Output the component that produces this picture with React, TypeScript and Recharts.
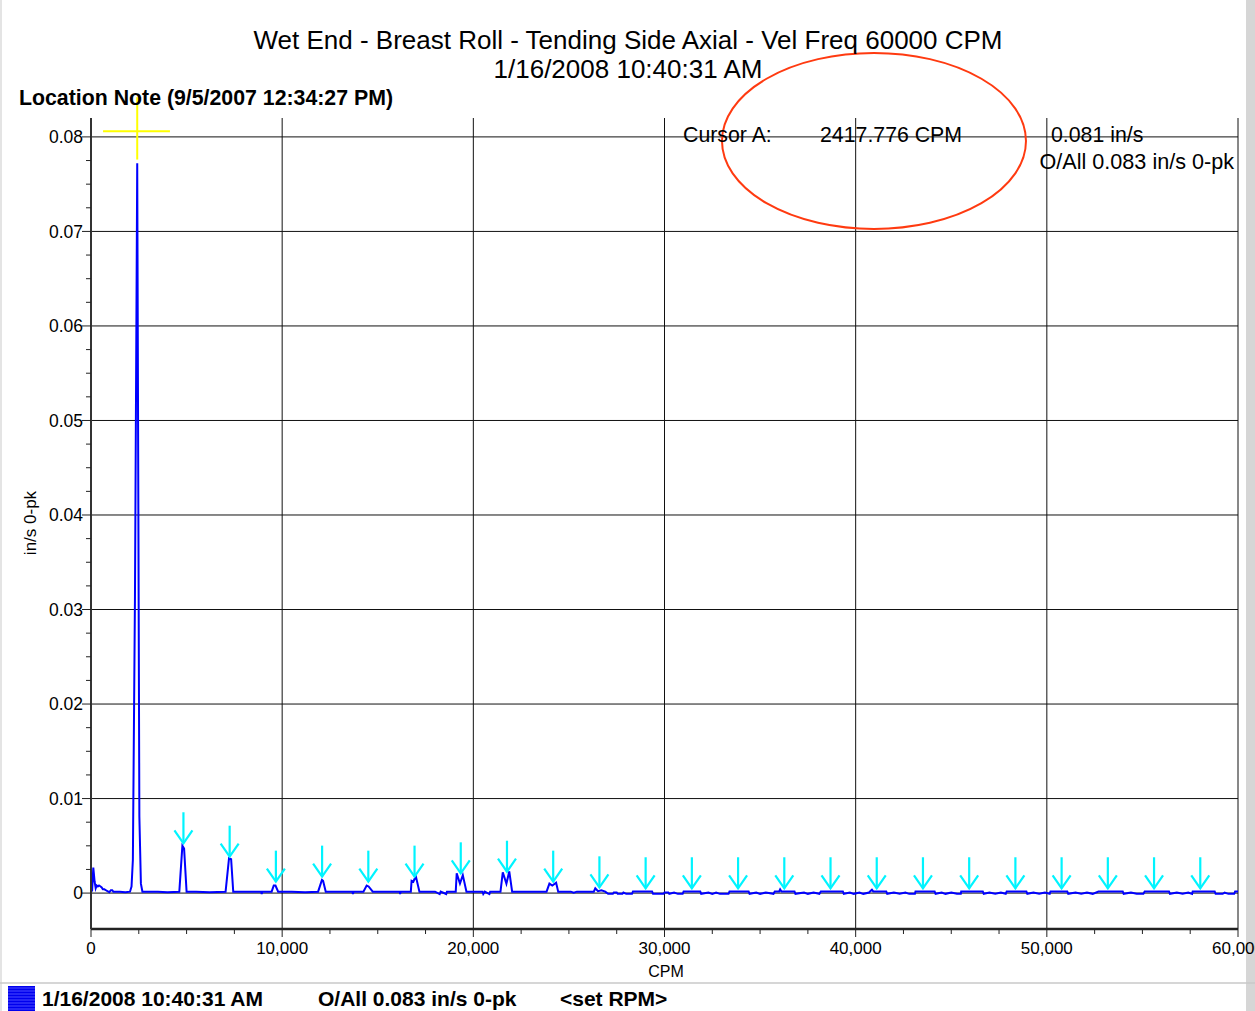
import { ComposedChart, Line, Scatter, XAxis, YAxis, ReferenceLine, ReferenceDot } from "recharts"

const FONT = "'Liberation Sans', Arial, Helvetica, sans-serif"

// velocity spectrum trace: [CPM, in/s 0-pk]
const spectrum: [number, number][] = [
  [0, 0.0001], [60, 0.0003], [120, 0.0027], [190, 0.0012], [245, 0.0005], [300, 0.0008],
  [360, 0.0007], [420, 0.0008], [500, 0.0007], [560, 0.0006], [620, 0.0004], [700, 0.0004],
  [780, 0.0003], [860, 0.0002], [960, 0.0001], [1040, 0.0003], [1110, 0.0003], [1170, 0.00015],
  [1500, 0.00015], [1800, 0.0001], [2040, 0.00015], [2120, 0.0007], [2190, 0.0035],
  [2300, 0.0314], [2418, 0.0772], [2530, 0.0081], [2610, 0.001], [2690, 0.00015],
  [3500, 0.00015], [4000, 0.0001], [4620, 0.00015], [4780, 0.005], [4870, 0.0047], [5000, 0.00015],
  [5500, 0.00015], [6200, 0.0001], [7040, 0.00015], [7220, 0.0037], [7330, 0.0036], [7440, 0.00015],
  [8200, 0.00015], [8900, 0.00015], [8930, -0.0001], [8960, 0.00015], [9450, 0.00015],
  [9560, 0.0008], [9650, 0.0008], [9790, 0.00015], [10500, 0.00015], [11200, 0.0001],
  [11880, 0.00015], [12080, 0.0014], [12140, 0.0013], [12280, 0.00015], [13000, 0.00015],
  [13680, 0.00015], [13700, -0.0001], [13740, 0.00015], [14250, 0.00015], [14420, 0.0008],
  [14520, 0.0007], [14740, 0.00015], [15500, 0.00015], [16150, 0.00015], [16170, -0.0001],
  [16200, 0.00015], [16730, 0.00015], [16770, 0.0013], [16860, 0.0012], [16990, 0.0018],
  [17180, 0.00015], [18000, 0.00015], [18240, -0.0001], [18290, 0.00015], [18580, -0.0001],
  [18620, 0.00015], [19080, 0.00015], [19130, 0.0021], [19300, 0.001], [19450, 0.0019],
  [19640, 0.00015], [20480, 0.00015], [20520, -0.0001], [20600, 0.00015], [20840, -0.0001],
  [20880, 0.00015], [21420, 0.00015], [21540, 0.0022], [21730, 0.001], [21880, 0.0023],
  [22030, 0.00015], [23000, 0.00015], [23830, 0.00015], [23980, 0.001], [24130, 0.0008],
  [24330, 0.0011], [24440, 0.00015], [25100, 0.00015], [25250, 0.00005], [25420, 0.00015],
  [26300, 0.00015], [26380, 0.0005], [26520, 0.0002], [26700, 0.0003], [26900, 0.00015],
  [27050, -0.00008], [27300, -0.00008], [27350, 0.00006], [27500, 0.00006], [27550, -0.00008],
  [27800, -0.00008], [27850, 0.00006], [28000, -0.00008], [28300, -0.00008], [28350, 0.00017],
  [29350, 0.00017], [29400, -0.00008], [29950, -0.00008], [30000, 0.00006], [30200, 0.00006],
  [30250, -0.00008], [30500, 0.00006], [30700, -0.00008], [30950, -0.00008], [31000, 0.00017],
  [31870, 0.00017], [31920, -0.00008], [32300, 0.00006], [32500, -0.00008], [32700, 0.00006],
  [32900, -0.00008], [33350, -0.00008], [33400, 0.00017], [34400, 0.00017], [34450, -0.00008],
  [34800, 0.00006], [35000, -0.00008], [35300, 0.00006], [35700, -0.00008], [35770, 0.00017],
  [36000, 0.00017], [36050, 0.0004], [36120, 0.00017], [36800, 0.00017], [36850, -0.00008],
  [37300, 0.00006], [37500, -0.00008], [37800, 0.00006], [38100, -0.00008], [38180, 0.00017],
  [39330, 0.00017], [39380, -0.00008], [39700, 0.00006], [39900, -0.00008], [40200, 0.00006],
  [40400, -0.00008], [40700, 0.00006], [40750, 0.00017], [40850, 0.00035], [40920, 0.00017],
  [41600, 0.00017], [41650, -0.00008], [42000, 0.00006], [42300, -0.00008], [42600, 0.00006],
  [42800, -0.00008], [43100, -0.00008], [43130, 0.00017], [44130, 0.00017], [44180, -0.00008],
  [44500, 0.00006], [44700, -0.00008], [45000, 0.00006], [45300, -0.00008], [45500, -0.00008],
  [45520, 0.00017], [46650, 0.00017], [46700, -0.00008], [47000, 0.00006], [47300, -0.00008],
  [47600, 0.00006], [47850, -0.00008], [47900, 0.00017], [48930, 0.00017], [48980, -0.00008],
  [49300, 0.00006], [49600, -0.00008], [49900, 0.00006], [50150, -0.00008], [50190, 0.00017],
  [51070, 0.00017], [51120, -0.00008], [51500, 0.00006], [51800, -0.00008], [52100, 0.00006],
  [52400, -0.00008], [52700, 0.00017], [53970, 0.00017], [54020, -0.00008], [54400, 0.00006],
  [54700, -0.00008], [55050, -0.00008], [55120, 0.00017], [56390, 0.00017], [56440, -0.00008],
  [56800, 0.00006], [57100, -0.00008], [57400, 0.00006], [57600, -0.00008], [57630, 0.00017],
  [58780, 0.00017], [58830, -0.00008], [59200, -0.00008], [59300, 0.00006], [59500, -0.00008],
  [59800, -0.00008], [59850, 0.00017], [60000, 0.00017],
]

// cursor A (1x run speed) and the harmonic markers
const cursorCpm = 2417.776
const harmonicOrders = [2, 3, 4, 5, 6, 7, 8, 9, 10, 11, 12, 13, 14, 15, 16, 17, 18, 19, 20, 21, 22, 23, 24]
const arrowTips = [
  0.00527, 0.00385, 0.00121, 0.00174, 0.00121, 0.00174, 0.00209, 0.00226, 0.00121, 0.00061,
  0.00051, 0.00051, 0.00051, 0.00051, 0.00051, 0.00051, 0.00051, 0.00051, 0.00051, 0.00051,
  0.00051, 0.00051, 0.00051,
]

const xTicks = [
  0, 2500, 5000, 7500, 10000, 12500, 15000, 17500, 20000, 22500, 25000, 27500, 30000,
  32500, 35000, 37500, 40000, 42500, 45000, 47500, 50000, 52500, 55000, 57500, 60000,
]
const xGrid = [10000, 20000, 30000, 40000, 50000, 60000]
const yTicks = [
  0, 0.0025, 0.005, 0.0075, 0.01, 0.0125, 0.015, 0.0175, 0.02, 0.0225, 0.025, 0.0275, 0.03,
  0.0325, 0.035, 0.0375, 0.04, 0.0425, 0.045, 0.0475, 0.05, 0.0525, 0.055, 0.0575, 0.06,
  0.0625, 0.065, 0.0675, 0.07, 0.0725, 0.075, 0.0775, 0.08,
]
const yGrid = [0, 0.01, 0.02, 0.03, 0.04, 0.05, 0.06, 0.07, 0.08]

const lineData = spectrum.map(([cpm, amp]) => ({ cpm, amp }))
const arrowData = harmonicOrders.map((n, i) => ({ cpm: cursorCpm * n, tip: arrowTips[i] }))

const isMajor = (v: number, step: number) => Math.abs(v / step - Math.round(v / step)) < 1e-6

function XTick({ x, y, payload }: any) {
  const major = isMajor(payload.value, 10000)
  return (
    <g>
      <line x1={x} x2={x} y1={y} y2={y + (major ? 8 : 5)} stroke="#222" strokeWidth={1} />
      {major && (
        <text x={x} y={y + 25} textAnchor="middle" fontSize={17} fontFamily={FONT} fill="#000">
          {payload.value.toLocaleString("en-US")}
        </text>
      )}
    </g>
  )
}

function YTick({ x, y, payload }: any) {
  const major = isMajor(payload.value, 0.01)
  return (
    <g>
      <line x1={x - (major ? 9 : 5)} x2={x} y1={y} y2={y} stroke="#222" strokeWidth={1} />
      {major && (
        <text x={x - 8} y={y + 6.3} textAnchor="end" fontSize={17.5} fontFamily={FONT} fill="#000">
          {payload.value === 0 ? "0" : payload.value.toFixed(2)}
        </text>
      )}
    </g>
  )
}

function Arrow({ cx, cy }: any) {
  return (
    <g stroke="#00f4ff" strokeWidth={2.2} fill="none">
      <line x1={cx} x2={cx} y1={cy - 31} y2={cy} />
      <path d={`M${cx - 9},${cy - 13} L${cx},${cy} L${cx + 9},${cy - 13}`} />
    </g>
  )
}

function Ellipse({ cx, cy }: any) {
  return <ellipse cx={cx} cy={cy} rx={152} ry={88} fill="none" stroke="#ff3a10" strokeWidth={2} />
}

export default function App() {
  return (
    <div style={{ position: "fixed", left: 0, top: 0, width: 1255, height: 1011, overflow: "hidden", background: "#fff" }}>
      <svg width={1255} height={1011} style={{ position: "absolute", left: 0, top: 0 }}>
        <rect x={1246} y={0} width={9} height={1011} fill="#d6d6d6" />
        <rect x={0} y={0} width={2} height={1011} fill="#e4e4e4" />
        <line x1={0} x2={1255} y1={983} y2={983} stroke="#c8c8c8" strokeWidth={1.5} />
      </svg>

      <div style={{ position: "absolute", left: 0, top: 0 }}>
        <ComposedChart width={1300} height={1011} data={lineData} margin={{ top: 118, right: 62, bottom: 32, left: 0 }}>
          <XAxis
            type="number"
            dataKey="cpm"
            domain={[0, 60000]}
            allowDataOverflow
            ticks={xTicks}
            interval={0}
            tickSize={0}
            tickMargin={0}
            tick={<XTick />}
            height={50}
            axisLine={{ stroke: "#222", strokeWidth: 2.5 }}
          />
          <YAxis
            type="number"
            domain={[-0.0038, 0.082]}
            allowDataOverflow
            ticks={yTicks}
            interval={0}
            tickSize={0}
            tickMargin={0}
            tick={<YTick />}
            width={91}
            axisLine={{ stroke: "#333", strokeWidth: 2 }}
          />
          {yGrid.map((v) => (
            <ReferenceLine key={`y${v}`} y={v} stroke="#111" strokeWidth={1} />
          ))}
          {xGrid.map((v) => (
            <ReferenceLine key={`x${v}`} x={v} stroke="#111" strokeWidth={1} />
          ))}
          <Line
            type="linear"
            dataKey="amp"
            stroke="#0000ff"
            strokeWidth={2}
            dot={false}
            isAnimationActive={false}
          />
          <Scatter data={arrowData} dataKey="tip" shape={<Arrow />} isAnimationActive={false} />
          <ReferenceLine
            segment={[{ x: cursorCpm, y: 0.0776 }, { x: cursorCpm, y: 0.0842 }]}
            stroke="#ffff00"
            strokeWidth={2}
            ifOverflow="visible"
          />
          <ReferenceLine
            segment={[{ x: 630, y: 0.0806 }, { x: 4130, y: 0.0806 }]}
            stroke="#ffff00"
            strokeWidth={2}
            ifOverflow="visible"
          />
          <ReferenceDot x={40958} y={0.07957} r={1} shape={<Ellipse />} ifOverflow="visible" />
        </ComposedChart>
      </div>

      <svg width={1255} height={1011} style={{ position: "absolute", left: 0, top: 0, pointerEvents: "none" }} fontFamily={FONT}>
        <text x={628} y={49} textAnchor="middle" fontSize={26} fill="#000">
          Wet End - Breast Roll - Tending Side Axial - Vel Freq 60000 CPM
        </text>
        <text x={628} y={78} textAnchor="middle" fontSize={26} fill="#000">
          1/16/2008 10:40:31 AM
        </text>
        <text x={19} y={104.5} fontSize={21.3} fontWeight="bold" fill="#000">
          Location Note (9/5/2007 12:34:27 PM)
        </text>
        <text x={683} y={141.5} fontSize={21.3} fill="#000">Cursor A:</text>
        <text x={820} y={141.5} fontSize={21.3} fill="#000">2417.776 CPM</text>
        <text x={1051} y={141.5} fontSize={21.3} fill="#000">0.081 in/s</text>
        <text x={1234} y={168.5} textAnchor="end" fontSize={21.6} fill="#000">O/All 0.083 in/s 0-pk</text>
        <text x={30} y={523} textAnchor="middle" fontSize={17} fill="#000" transform="rotate(-90 30 523)" dy={6}>
          in/s 0-pk
        </text>
        <text x={666} y={977} textAnchor="middle" fontSize={16} fill="#000">CPM</text>

        <rect x={8} y={986} width={27} height={25} fill="#0000ee" />
        {[988, 991, 994, 997, 1000, 1003, 1006, 1009].map((yy) => (
          <line key={yy} x1={8} x2={35} y1={yy} y2={yy} stroke="#4d4dff" strokeWidth={1} />
        ))}
        <text x={42} y={1006} fontSize={21} fontWeight="bold" fill="#000">1/16/2008 10:40:31 AM</text>
        <text x={318} y={1006} fontSize={21} fontWeight="bold" fill="#000">O/All 0.083 in/s 0-pk</text>
        <text x={560} y={1006} fontSize={21} fontWeight="bold" fill="#000">&lt;set RPM&gt;</text>
      </svg>
    </div>
  )
}
